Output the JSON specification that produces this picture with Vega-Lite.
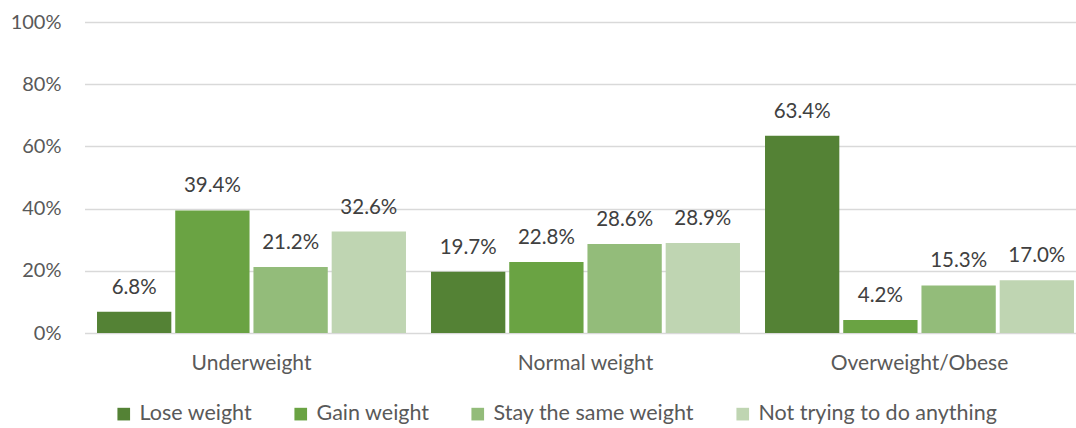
{
  "$schema": "https://vega.github.io/schema/vega-lite/v6.json",
  "width": 990,
  "height": 311,
  "autosize": {"type": "none"},
  "padding": {"left": 85, "top": 22, "right": 1, "bottom": 95},
  "background": "white",
  "config": {
    "view": {"stroke": null},
    "font": "Lato"
  },
  "data": {
    "values": [
      {"group": "Underweight", "series": "Lose weight", "value": 0.068},
      {"group": "Underweight", "series": "Gain weight", "value": 0.394},
      {"group": "Underweight", "series": "Stay the same weight", "value": 0.212},
      {"group": "Underweight", "series": "Not trying to do anything", "value": 0.326},
      {"group": "Normal weight", "series": "Lose weight", "value": 0.197},
      {"group": "Normal weight", "series": "Gain weight", "value": 0.228},
      {"group": "Normal weight", "series": "Stay the same weight", "value": 0.286},
      {"group": "Normal weight", "series": "Not trying to do anything", "value": 0.289},
      {"group": "Overweight/Obese", "series": "Lose weight", "value": 0.634},
      {"group": "Overweight/Obese", "series": "Gain weight", "value": 0.042},
      {"group": "Overweight/Obese", "series": "Stay the same weight", "value": 0.153},
      {"group": "Overweight/Obese", "series": "Not trying to do anything", "value": 0.170}
    ]
  },
  "encoding": {
    "x": {
      "field": "group", "type": "nominal", "sort": null,
      "scale": {"paddingInner": 0, "paddingOuter": 0, "range": [-0.5, 1001.5]},
      "axis": {"title": null, "labelAngle": 0, "labelFontSize": 21, "labelColor": "#595959", "ticks": false, "domain": false, "labelPadding": 19}
    },
    "xOffset": {
      "field": "series", "sort": ["Lose weight", "Gain weight", "Stay the same weight", "Not trying to do anything"],
      "scale": {"paddingInner": 0.05, "paddingOuter": 0.16}
    },
    "y": {
      "field": "value", "type": "quantitative",
      "scale": {"domain": [0, 1]},
      "axis": {"title": null, "values": [0, 0.2, 0.4, 0.6, 0.8, 1], "format": ".0%", "labelFontSize": 20, "labelColor": "#595959", "ticks": false, "domain": false, "gridColor": "#d9d9d9", "gridWidth": 1.5, "labelPadding": 24}
    }
  },
  "layer": [
    {
      "mark": {"type": "bar"},
      "encoding": {
        "color": {
          "field": "series", "type": "nominal",
          "sort": ["Lose weight", "Gain weight", "Stay the same weight", "Not trying to do anything"],
          "scale": {"range": ["#548235", "#6aa343", "#93bc7a", "#bfd5b2"]},
          "legend": {
            "title": null, "orient": "none", "direction": "horizontal", "columns": 4,
            "legendX": 28, "legendY": 381,
            "symbolType": "square", "symbolSize": 160, "symbolStrokeWidth": 0,
            "labelFontSize": 21.5, "labelColor": "#595959", "labelOffset": 5, "columnPadding": 37, "labelLimit": 0
          }
        }
      }
    },
    {
      "mark": {"type": "text", "baseline": "bottom", "dy": -14, "fontSize": 20.5, "color": "#404040"},
      "encoding": {
        "text": {"field": "value", "type": "quantitative", "format": ".1%"},
        "detail": {"field": "series"}
      }
    }
  ]
}
